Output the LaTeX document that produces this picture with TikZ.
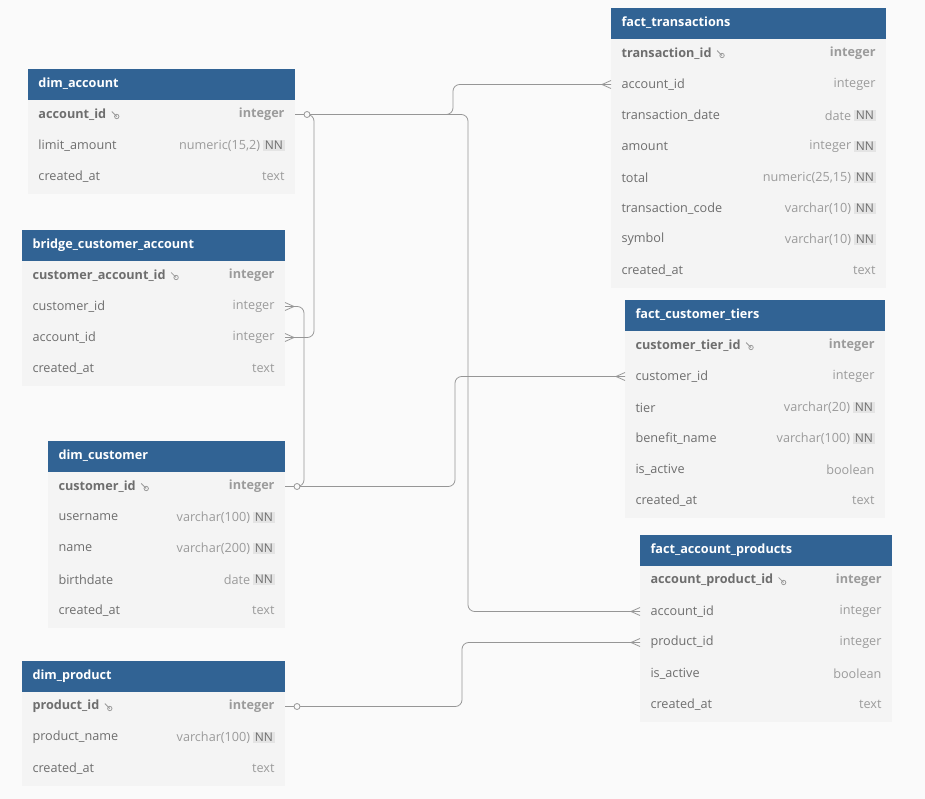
\documentclass[tikz,border=0pt]{standalone}
\usepackage{fontspec}
\setmainfont{Open Sans}
\usetikzlibrary{calc}
\definecolor{headc}{RGB}{49,99,148}
\definecolor{bodyc}{RGB}{244,244,244}
\definecolor{pagec}{RGB}{250,250,250}
\definecolor{fieldc}{RGB}{110,110,110}
\definecolor{typec}{RGB}{155,155,155}
\definecolor{nnc}{RGB}{228,228,228}
\definecolor{linec}{RGB}{150,150,150}
\tikzset{every picture/.style={line width=0.75pt}}
\tikzset{
  headtxt/.style={anchor=west,inner sep=0,text=white,font=\fontsize{9.5}{11}\selectfont\bfseries},
  fieldtxt/.style={anchor=west,inner sep=0,text=fieldc,font=\fontsize{9.5}{11}\selectfont},
  typetxt/.style={anchor=east,inner sep=0,text=typec,font=\fontsize{9.5}{11}\selectfont},
  nnbox/.style={anchor=east,fill=nnc,inner sep=1.2pt,text=fieldc,font=\fontsize{9}{11}\selectfont},
  rel/.style={draw=linec,line width=0.6pt,rounded corners=5pt},
  onemark/.style={circle,draw=linec,fill=pagec,line width=0.6pt,inner sep=0,minimum size=4.5pt}
}
% one row of a table: field, type
\newcommand\rowplain[2]{%
  \node[fieldtxt] at (\xl+10,\yc) {#1};
  \node[typetxt] at (\xr-10,\yc) {#2};}
\newcommand\rownn[2]{%
  \node[nnbox] (nn) at (\xr-10,\yc) {NN};
  \node[typetxt] at ($(nn.west)+(-2,0)$) {#2};}
\newcommand\rowkey[2]{%
  \node[fieldtxt,font=\fontsize{9.5}{11}\selectfont\bfseries] (kf) at (\xl+10,\yc) {#1};
  \draw[typec,line width=0.6pt] ($(kf.east)+(5,-3)$) -- ++(5,5) circle (2.2);
  \node[typetxt,font=\fontsize{9.5}{11}\selectfont\bfseries] at (\xr-10,\yc) {#2};}
% table: name, left, top, width, rows
\newcommand\erdtable[5]{%
  \fill[headc] (#2,#3) rectangle (#2+#4,#3+31);
  \node[headtxt] (#1) at (#2+10,#3+15) {#1};
  \foreach \f/\t/\s [count=\i] in {#5}{
    \pgfmathsetmacro\xl{#2}
    \pgfmathsetmacro\xr{#2+#4}
    \pgfmathsetmacro\yt{#3+31+(\i-1)*31}
    \pgfmathsetmacro\yc{\yt+14.5}
    \fill[bodyc] (\xl,\yt) rectangle (\xr,\yt+31.5);
    \coordinate (#1-\i-w) at (\xl,\yc);
    \coordinate (#1-\i-e) at (\xr,\yc);
    \ifx\s\nnflag \rownn{\f}{\t}\node[fieldtxt] at (\xl+10,\yc) {\f};
    \else\ifx\s\keyflag \rowkey{\f}{\t}
    \else \rowplain{\f}{\t}\fi\fi
  }}
\def\nnflag{n}
\def\keyflag{k}
% crow's foot at a table side, #2 = 1 (opens to the right) or -1
\newcommand\crow[2]{\draw[linec,line width=0.6pt] ($(#1)+(0,-4)$) -- ($(#1)+(-9*#2,0)$) -- ($(#1)+(0,4)$);}

\begin{document}
\catcode`\_=12
\begin{tikzpicture}[x=0.75pt,y=0.75pt,yscale=-1,xscale=1]
\fill[pagec] (0,0) rectangle (925,799);
\useasboundingbox (0,0) rectangle (925,799);

\erdtable{dim_account}{28}{69}{267}{account_id/integer/k,limit_amount/{numeric(15,2)}/n,created_at/text/p}
\erdtable{bridge_customer_account}{22}{230}{263}{customer_account_id/integer/k,customer_id/integer/p,account_id/integer/p,created_at/text/p}
\erdtable{dim_customer}{48}{441}{237}{customer_id/integer/k,username/{varchar(100)}/n,name/{varchar(200)}/n,birthdate/date/n,created_at/text/p}
\erdtable{dim_product}{22}{661}{263}{product_id/integer/k,product_name/{varchar(100)}/n,created_at/text/p}
\erdtable{fact_transactions}{611}{8}{275}{transaction_id/integer/k,account_id/integer/p,transaction_date/date/n,amount/integer/n,total/{numeric(25,15)}/n,transaction_code/{varchar(10)}/n,symbol/{varchar(10)}/n,created_at/text/p}
\erdtable{fact_customer_tiers}{625}{300}{260}{customer_tier_id/integer/k,customer_id/integer/p,tier/{varchar(20)}/n,benefit_name/{varchar(100)}/n,is_active/boolean/p,created_at/text/p}
\erdtable{fact_account_products}{640}{535}{252}{account_product_id/integer/k,account_id/integer/p,product_id/integer/p,is_active/boolean/p,created_at/text/p}

% account relations
\draw[rel] (dim_account-1-e) -- ++(158,0) |- (fact_transactions-2-w);
\draw[rel] (dim_account-1-e) -- ++(173,0) |- (fact_account_products-2-w);
\draw[rel] (dim_account-1-e) -- ++(19,0) |- (bridge_customer_account-3-e);
% customer relations
\draw[rel] (dim_customer-1-e) -- ++(170,0) |- (fact_customer_tiers-2-w);
\draw[rel] (dim_customer-1-e) -- ++(19,0) |- (bridge_customer_account-2-e);
% product relation
\draw[rel] (dim_product-1-e) -- ++(177,0) |- (fact_account_products-3-w);

\node[onemark] at ($(dim_account-1-e)+(12,0)$) {};
\node[onemark] at ($(dim_customer-1-e)+(12,0)$) {};
\node[onemark] at ($(dim_product-1-e)+(12,0)$) {};
\crow{fact_transactions-2-w}{1}
\crow{fact_customer_tiers-2-w}{1}
\crow{fact_account_products-2-w}{1}
\crow{fact_account_products-3-w}{1}
\crow{bridge_customer_account-2-e}{-1}
\crow{bridge_customer_account-3-e}{-1}
\end{tikzpicture}
\end{document}
